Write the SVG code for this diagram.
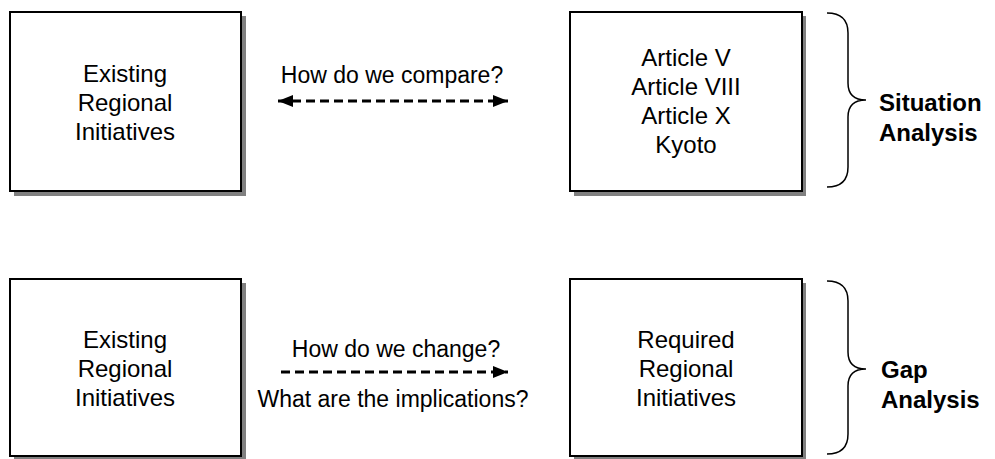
<svg xmlns="http://www.w3.org/2000/svg" width="995" height="459" viewBox="0 0 995 459">
<style>
.shadow{fill:#808080;stroke:none}
.box{fill:#fff;stroke:#000;stroke-width:2}
.t{font-family:"Liberation Sans",Arial,sans-serif;font-size:24px;fill:#000;text-anchor:middle}
.lbl{font-family:"Liberation Sans",Arial,sans-serif;font-size:23px;fill:#000;text-anchor:middle}
.b{font-family:"Liberation Sans",Arial,sans-serif;font-size:24px;font-weight:bold;fill:#000}
.dash{fill:none;stroke:#000;stroke-width:3;stroke-dasharray:9 5}
.brace{fill:none;stroke:#000;stroke-width:1.5}
</style>
<defs>
<marker id="ah" markerWidth="15" markerHeight="12" refX="15" refY="6" orient="auto-start-reverse" markerUnits="userSpaceOnUse">
<path d="M0,0 L15,6 L0,12 Z" fill="#000"/>
</marker>
</defs>
<g id="existing-top">
<rect class="shadow" x="14" y="16" width="232" height="180"/>
<rect class="box" x="10" y="12" width="231" height="179"/>
<text class="t" x="125" y="82">Existing</text>
<text class="t" x="125" y="111">Regional</text>
<text class="t" x="125" y="140">Initiatives</text>
</g>
<g id="articles">
<rect class="shadow" x="574" y="16" width="232" height="180"/>
<rect class="box" x="570" y="12" width="232" height="179"/>
<text class="t" x="686" y="66">Article V</text>
<text class="t" x="686" y="95">Article VIII</text>
<text class="t" x="686" y="124">Article X</text>
<text class="t" x="686" y="153">Kyoto</text>
</g>
<g id="existing-bottom">
<rect class="shadow" x="14" y="283" width="232" height="180"/>
<rect class="box" x="10" y="279" width="231" height="177"/>
<text class="t" x="125" y="348">Existing</text>
<text class="t" x="125" y="377">Regional</text>
<text class="t" x="125" y="406">Initiatives</text>
</g>
<g id="required">
<rect class="shadow" x="574" y="283" width="232" height="180"/>
<rect class="box" x="570" y="279" width="232" height="177"/>
<text class="t" x="686" y="348">Required</text>
<text class="t" x="686" y="377">Regional</text>
<text class="t" x="686" y="406">Initiatives</text>
</g>
<g id="situation-analysis">
<path class="brace" d="M827,13 Q848,13 848,33 L848,83 Q848,100 866,100 Q848,100 848,117 L848,167 Q848,187 827,187"/>
<text class="b" x="879" y="111">Situation</text>
<text class="b" x="879" y="141">Analysis</text>
</g>
<g id="gap-analysis">
<path class="brace" d="M827,281 Q848,281 848,301 L848,352 Q848,369 866,369 Q848,369 848,386 L848,434 Q848,454 827,454"/>
<text class="b" x="881" y="378">Gap</text>
<text class="b" x="881" y="408">Analysis</text>
</g>
<g id="connectors">
<line class="dash" x1="278" y1="101" x2="508" y2="101" marker-start="url(#ah)" marker-end="url(#ah)"/>
<text class="lbl" x="392" y="83">How do we compare?</text>
<line class="dash" x1="281" y1="372" x2="508" y2="372" marker-end="url(#ah)"/>
<text class="lbl" x="396" y="357">How do we change?</text>
<text class="lbl" x="393" y="407">What are the implications?</text>
</g>
</svg>
